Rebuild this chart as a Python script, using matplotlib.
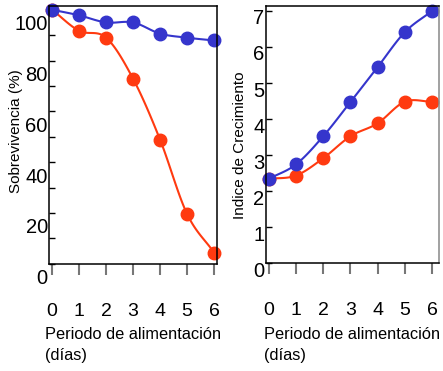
import numpy as np
import matplotlib
matplotlib.use('Agg')
import matplotlib.pyplot as plt
from matplotlib.transforms import ScaledTranslation

# data
dias = [0, 1, 2, 3, 4, 5, 6]
sobrev_azul = [100, 97.8, 95, 95, 90.6, 89, 87.9]
sobrev_roja = [100, 91.7, 89, 72.8, 48.8, 19.6, 4.4]
crec_azul = [2.34, 2.74, 3.52, 4.47, 5.44, 6.41, 7.0]
crec_roja = [2.34, 2.43, 2.91, 3.52, 3.88, 4.48, 4.48]

sobrev_ticks = [0, 20, 40, 60, 80, 100]
crec_ticks = [0, 1, 2, 3, 4, 5, 6, 7]

AZUL = '#3535CC'
ROJO = '#FF3A10'

plt.rcParams['font.family'] = ['Liberation Sans', 'DejaVu Sans']


def smooth(x, y, n=20):
    # cubic hermite curve through the points, only for drawing the line
    x = np.asarray(x, float)
    y = np.asarray(y, float)
    m = np.gradient(y, x)
    xs, ys = [], []
    for i in range(len(x) - 1):
        t = np.linspace(0, 1, n)
        h = x[i + 1] - x[i]
        h00 = 2*t**3 - 3*t**2 + 1
        h10 = t**3 - 2*t**2 + t
        h01 = -2*t**3 + 3*t**2
        h11 = t**3 - t**2
        xs.append(x[i] + t*h)
        ys.append(h00*y[i] + h10*h*m[i] + h01*y[i+1] + h11*h*m[i+1])
    return np.concatenate(xs), np.concatenate(ys)


def panel(ax, ys, ylim, yticks, minor, ylabel, yoff, lab_xy):
    for y, c in ys:
        sx, sy = smooth(dias, y)
        ax.plot(sx, sy, color=c, lw=1.5, clip_on=False)
        ax.plot(dias, y, 'o', color=c, ms=9, clip_on=False)
    ax.set_ylim(*ylim)
    ax.set_yticks(yticks)
    ax.set_yticks(minor, minor=True)
    ax.tick_params(axis='y', which='both', direction='in', length=4,
                   width=1, pad=1, labelsize=14.5)
    ax.tick_params(axis='x', direction='out', length=8, width=1.5,
                   color='#777777', pad=20, labelsize=14)
    ax.set_xticks(dias)
    for lab in ax.get_yticklabels():
        lab.set_transform(lab.get_transform() +
                          ScaledTranslation(0, -yoff/100, ax.figure.dpi_scale_trans))
    ax.set_ylabel(ylabel, fontsize=11)
    ax.yaxis.set_label_coords(*lab_xy)
    for s in ax.spines.values():
        s.set_linewidth(1.1)


fig = plt.figure(figsize=(4.43, 3.71), dpi=100)
ax1 = fig.add_axes([0.111, 0.289, 0.379, 0.695])
ax2 = fig.add_axes([0.6, 0.291, 0.391, 0.692])

panel(ax1, [(sobrev_roja, ROJO), (sobrev_azul, AZUL)], (0, 101.5),
      sobrev_ticks, [10, 30, 50, 70, 90], 'Sobrevivencia (%)', 13,
      (-0.158, 0.515))
ax1.set_xlim(-0.11, 6.11)

panel(ax2, [(crec_roja, ROJO), (crec_azul, AZUL)], (0, 7.13),
      crec_ticks, [], 'Indice de Crecimiento', 6,
      (-0.11, 0.46))
ax2.set_xlim(-0.11, 6.26)
ax2.spines['right'].set_color('#888888')

for x in (0.101, 0.595):
    fig.text(x, 0.07, 'Periodo de alimentación\n(días)', fontsize=11.8,
             ha='left', va='center', linespacing=1.5)

fig.savefig('out.png', dpi=100)
